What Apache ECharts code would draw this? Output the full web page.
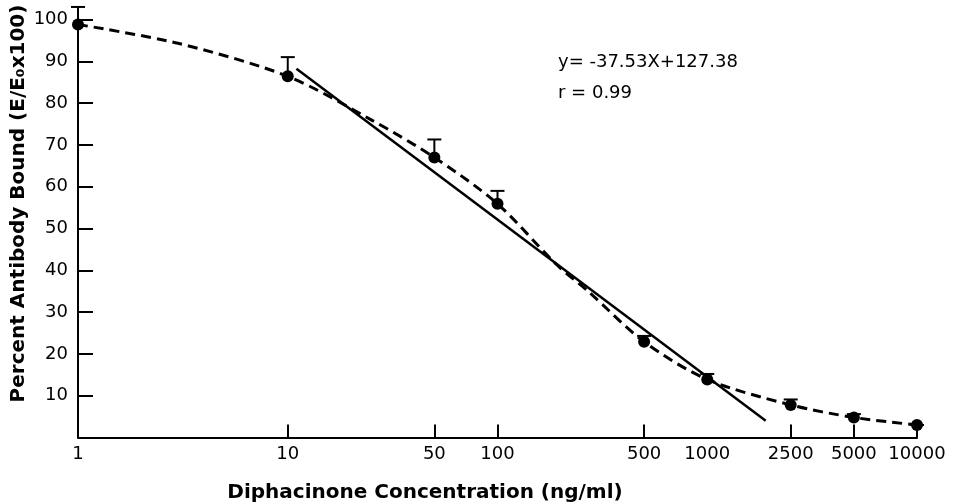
<!DOCTYPE html>
<html>
<head>
<meta charset="utf-8">
<script src="https://cdn.jsdelivr.net/npm/echarts@6/dist/echarts.min.js"></script>
<style>
  html, body { margin: 0; background: #fff; }
  #chart { width: 965px; height: 503px; }
</style>
</head>
<body>
<div id="chart"></div>
<script>
// measured points (mean) and top of error bar
var conc = [1, 10, 50, 100, 500, 1000, 2500, 5000, 10000];
var bound = [98.8, 86.4, 67.0, 55.9, 22.9, 13.9, 7.8, 4.8, 3.0];
var errTop = [103, 91, 71.3, 59, 24.3, 15.2, 9.1, 5.6, 3.0];

// dashed curve drawn through the points
var curveConc = [1, 3, 10, 25, 50, 100, 190, 270, 500, 1000, 2500, 5000, 10000];
var curveBound = [98.8, 94.3, 86.4, 76, 67, 55.9, 41.5, 35, 22.9, 13.9, 7.8, 4.8, 3.0];

// regression line end points (as drawn)
var fitConc = [11, 1900];
var fitBound = [88.2, 4];

var xLabelValues = [1, 10, 50, 100, 500, 1000, 2500, 5000, 10000];
var xTickValues = [10, 50, 100, 500, 2500, 5000, 10000];

var font = 'DejaVu Sans';

function pairs(xs, ys) {
  return xs.map(function (x, i) { return [x, ys[i]]; });
}

var chart = echarts.init(document.getElementById('chart'));

var option = {
  animation: false,
  backgroundColor: '#fff',
  grid: { left: 78, right: 48, top: 19.5, bottom: 65.5, outerBoundsMode: 'none' },
  xAxis: {
    type: 'log',
    logBase: 10,
    min: 1,
    max: 10000,
    name: 'Diphacinone Concentration (ng/ml)',
    nameLocation: 'middle',
    nameGap: 45,
    nameMoveOverlap: false,
    nameTextStyle: {
      fontFamily: font, fontSize: 20, fontWeight: 'bold', color: '#000',
      padding: [0, 145, 0, 0]
    },
    axisLine: { lineStyle: { color: '#000', width: 2 } },
    axisTick: {
      inside: true, length: 13, customValues: xTickValues,
      lineStyle: { color: '#000', width: 2 }
    },
    axisLabel: {
      customValues: xLabelValues,
      fontFamily: font, fontSize: 18, color: '#000', margin: 8,
      formatter: function (v) { return String(Math.round(v)); }
    },
    splitLine: { show: false },
    minorTick: { show: false }
  },
  yAxis: {
    type: 'value',
    min: 0,
    max: 100,
    interval: 10,
    name: 'Percent Antibody Bound (E/E\u2080x100)',
    nameLocation: 'middle',
    nameGap: 49,
    nameMoveOverlap: false,
    nameTextStyle: {
      fontFamily: font, fontSize: 20, fontWeight: 'bold', color: '#000',
      padding: [0, 0, 0, 50]
    },
    axisLine: { show: true, lineStyle: { color: '#000', width: 2 } },
    axisTick: { inside: true, length: 15, lineStyle: { color: '#000', width: 2 } },
    axisLabel: {
      fontFamily: font, fontSize: 18, color: '#000', margin: 10,
      formatter: function (v) { return v === 0 ? '' : v; }
    },
    splitLine: { show: false }
  },
  graphic: [
    {
      type: 'text', left: 558, top: 53,
      style: { text: 'y= -37.53X+127.38', font: '18px "DejaVu Sans"', fill: '#000' }
    },
    {
      type: 'text', left: 558, top: 84,
      style: { text: 'r = 0.99', font: '18px "DejaVu Sans"', fill: '#000' }
    }
  ],
  series: [
    {
      name: 'curve',
      type: 'line',
      smooth: 0.3,
      showSymbol: false,
      data: pairs(curveConc, curveBound),
      lineStyle: { color: '#000', width: 3, type: [10, 6] },
      z: 2
    },
    {
      name: 'fit',
      type: 'line',
      showSymbol: false,
      data: pairs(fitConc, fitBound),
      lineStyle: { color: '#000', width: 2.5 },
      z: 3
    },
    {
      name: 'error',
      type: 'custom',
      clip: false,
      data: conc.map(function (x, i) { return [x, bound[i], errTop[i]]; }),
      renderItem: function (params, api) {
        var p0 = api.coord([api.value(0), api.value(1)]);
        var p1 = api.coord([api.value(0), api.value(2)]);
        var style = { stroke: '#000', lineWidth: 2 };
        return {
          type: 'group',
          children: [
            { type: 'line', shape: { x1: p0[0], y1: p0[1], x2: p1[0], y2: p1[1] }, style: style },
            { type: 'line', shape: { x1: p1[0] - 7, y1: p1[1], x2: p1[0] + 7, y2: p1[1] }, style: style }
          ]
        };
      },
      z: 4
    },
    {
      name: 'points',
      type: 'scatter',
      symbol: 'circle',
      symbolSize: 12,
      data: pairs(conc, bound),
      itemStyle: { color: '#000', opacity: 1 },
      z: 5
    }
  ]
};

chart.setOption(option);
</script>
</body>
</html>
